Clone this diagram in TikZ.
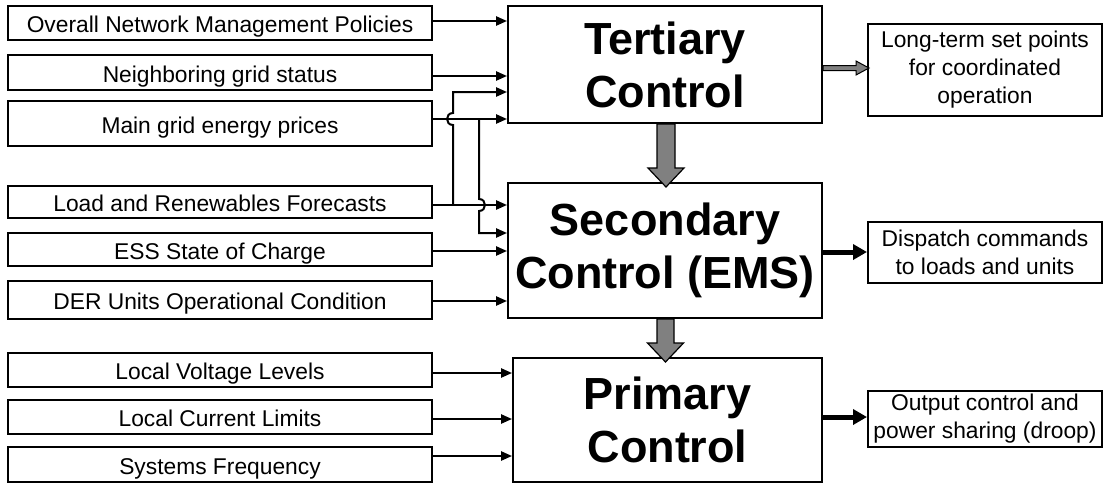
\documentclass[tikz,border=0pt]{standalone}
\usepackage{fontspec}
\setmainfont{Liberation Sans}
\usetikzlibrary{arrows.meta,calc}
\definecolor{arrgray}{RGB}{128,128,128}
\begin{document}
\begin{tikzpicture}[x=0.5pt,y=-0.5pt,
  inbox/.style={draw,line width=1pt,minimum width=212pt,inner sep=0pt,text height=9.6pt,text depth=0pt,font=\fontsize{11.4}{14}\selectfont},
  ctrl/.style={draw,line width=1pt,inner sep=0pt,align=center,font=\fontsize{22.5}{26.5}\selectfont\bfseries},
  outbox/.style={draw,line width=1pt,minimum width=117pt,inner sep=0pt,align=center,font=\fontsize{11.4}{14}\selectfont},
  inarrow/.style={line width=1pt,-{Triangle[length=5.5pt,width=4.6pt]}},
  outarrow/.style={line width=2.5pt,-{Triangle[length=7pt,width=7.5pt]}},
  blockarrow/.style={draw,line width=0.6pt,fill=arrgray,line join=miter},
  smallblock/.style={draw,line width=0.5pt,fill=arrgray,line join=miter}]
\useasboundingbox (0,0) rectangle (1104,483);

% input boxes
\node[inbox,minimum height=17pt]   (l1) at (220,23)    {Overall Network Management Policies};
\node[inbox,minimum height=17.5pt] (l2) at (220,72.5)  {Neighboring grid status};
\node[inbox,minimum height=22.5pt] (l3) at (220,123.5) {Main grid energy prices};
\node[inbox,minimum height=16pt]   (l4) at (220,202)   {Load and Renewables Forecasts};
\node[inbox,minimum height=16.5pt] (l5) at (220,249.5) {ESS State of Charge};
\node[inbox,minimum height=19pt]   (l6) at (220,300)   {DER Units Operational Condition};
\node[inbox,minimum height=17pt]   (l7) at (220,370)   {Local Voltage Levels};
\node[inbox,minimum height=17pt]   (l8) at (220,417)   {Local Current Limits};
\node[inbox,minimum height=17.5pt] (l9) at (220,464.5) {Systems Frequency};

% control boxes
\node[ctrl,minimum width=157pt,minimum height=58.5pt] (t) at (665,64.5)  {Tertiary\\Control};
\node[ctrl,minimum width=157pt,minimum height=67.5pt] (s) at (665,250.5) {Secondary\\Control (EMS)};
\node[ctrl,minimum width=154.5pt,minimum height=62pt] (p) at (667.5,420) {Primary\\Control};

% output boxes
\node[outbox,minimum height=46pt]   (r1) at (985,70)    {Long-term set points\\for coordinated\\operation};
\node[outbox,minimum height=30.5pt] (r2) at (985,252.5) {Dispatch commands\\to loads and units};
\node[outbox,minimum height=28pt]   (r3) at (985,419)   {Output control and\\power sharing (droop)};

% input arrow start points
\coordinate (a1) at ($(l1.east)+(0,-2)$);
\coordinate (a2) at ($(l2.east)+(0,3.5)$);
\coordinate (a3) at ($(l3.east)+(0,-4.5)$);
\coordinate (a4) at ($(l4.east)+(0,3)$);
\coordinate (a5) at ($(l5.east)+(0,1.5)$);
\coordinate (a6) at ($(l6.east)+(0,1)$);
\coordinate (a7) at ($(l7.east)+(0,3)$);
\coordinate (a8) at ($(l8.east)+(0,2)$);
\coordinate (a9) at ($(l9.east)+(0,-8.5)$);

\draw[inarrow] (a1) -- (a1 -| t.west);
\draw[inarrow] (a2) -- (a2 -| t.west);
\draw[inarrow] (a3) -- (a3 -| t.west);
\draw[inarrow] (a4) -- (a4 -| s.west);
\draw[inarrow] (a5) -- (a5 -| s.west);
\draw[inarrow] (a6) -- (a6 -| s.west);
\draw[inarrow] (a7) -- (a7 -| p.west);
\draw[inarrow] (a8) -- (a8 -| p.west);
\draw[inarrow] (a9) -- (a9 -| p.west);

% branches with line hops
\coordinate (t3) at ($(t.west)+(0,27.5)$);
\coordinate (s2) at ($(s.west)+(0,-17.5)$);
\coordinate (j1) at ($(a4)+(20,0)$);
\coordinate (j2) at ($(a3)+(46,0)$);
\draw[inarrow] (j1) -- ($(j1|-a3)+(0,6)$) .. controls +(-8,0) and +(-8,0) .. ($(j1|-a3)+(0,-6)$) -- (j1 |- t3) -- (t3);
\draw[inarrow] (j2) -- ($(j2|-a4)+(0,-6)$) .. controls +(8,0) and +(8,0) .. ($(j2|-a4)+(0,6)$) -- (j2 |- s2) -- (s2);

% outputs
\coordinate (o1) at ($(t.east)+(0,3.5)$);
\draw[smallblock] ($(o1)+(0,-2.5)$) -- ++(33,0) -- ++(0,-4.5) -- ++(13,7) -- ++(-13,7) -- ++(0,-4.5) -- ++(-33,0) -- cycle;
\coordinate (o2) at ($(s.east)+(0,1.5)$);
\draw[outarrow] (o2) -- (o2 -| r2.west);
\coordinate (o3) at ($(p.east)+(0,-3)$);
\draw[outarrow] (o3) -- (o3 -| r3.west);

% block arrows between levels
\coordinate (b1) at ($(t.south)+(1,0)$);
\draw[blockarrow] ($(b1)+(-9,0)$) -- ++(0,44) -- ++(-9,0) -- ++(18,19) -- ++(18,-19) -- ++(-9,0) -- ++(0,-44) -- cycle;
\coordinate (b2) at ($(s.south)+(0.5,0)$);
\draw[blockarrow] ($(b2)+(-8.5,0)$) -- ++(0,24) -- ++(-9.5,0) -- ++(18,19) -- ++(18,-19) -- ++(-9.5,0) -- ++(0,-24) -- cycle;
\end{tikzpicture}
\end{document}
